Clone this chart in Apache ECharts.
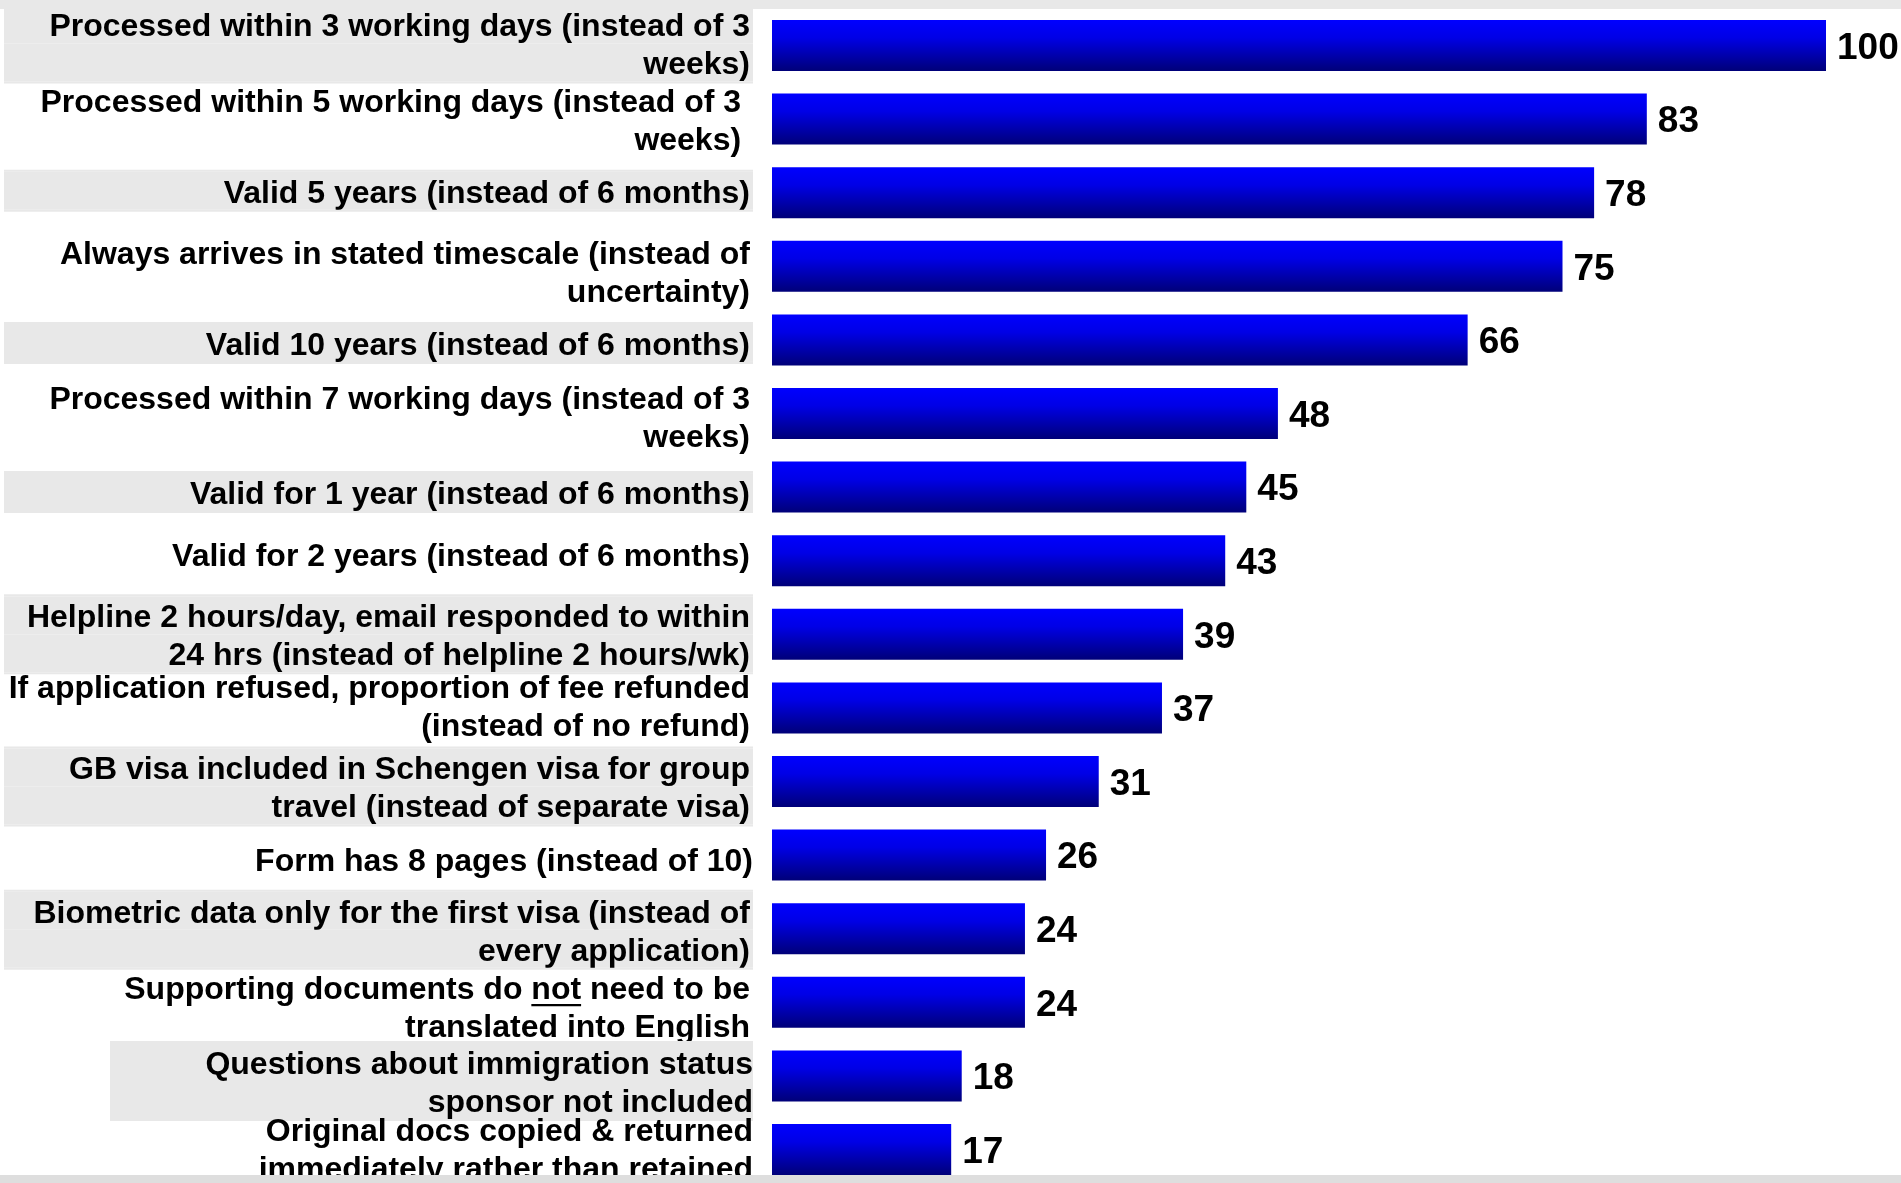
<!DOCTYPE html>
<html>
<head>
<meta charset="utf-8">
<script src="https://cdn.jsdelivr.net/npm/echarts@6/dist/echarts.min.js"></script>
<style>
html,body{margin:0;padding:0;background:#fff;}
#chart{width:1901px;height:1183px;}
</style>
</head>
<body>
<div id="chart"></div>
<script>
// ---- data ----
var categories = [
  "Processed within 3 working days (instead of 3\nweeks)",
  "Processed within 5 working days (instead of 3 \nweeks) ",
  "Valid 5 years (instead of 6 months)",
  "Always arrives in stated timescale (instead of\nuncertainty)",
  "Valid 10 years (instead of 6 months)",
  "Processed within 7 working days (instead of 3\nweeks)",
  "Valid for 1 year (instead of 6 months)",
  "Valid for 2 years (instead of 6 months)",
  "Helpline 2 hours/day, email responded to within\n24 hrs (instead of helpline 2 hours/wk)",
  "If application refused, proportion of fee refunded\n(instead of no refund)",
  "GB visa included in Schengen visa for group\ntravel (instead of separate visa)",
  "Form has 8 pages (instead of 10)",
  "Biometric data only for the first visa (instead of\nevery application)",
  "Supporting documents do {u|not} need to be\ntranslated into English",
  "Questions about immigration status\nsponsor not included",
  "Original docs copied & returned\nimmediately rather than retained"
];
var values = [100, 83, 78, 75, 66, 48, 45, 43, 39, 37, 31, 26, 24, 24, 18, 17];

// ---- label styling (not data) ----
var shadedRows = [0, 2, 4, 6, 8, 10, 12, 14];   // grey band behind label
var flushRows = [11, 14, 15];                    // text flush to the band edge
var narrowBandRow = 14;                          // shorter grey band
var labelShift = [-2, 0, -2, 5, 3, 3, 5, -7, 0, -3, 5, 4, 1, 4, 5, -1];

var FONT = "'Liberation Sans', Arial, sans-serif";
var GREY = '#e8e8e8';

function txt(extra) {
  var o = { fontFamily: FONT, fontSize: 32, fontWeight: 'bold', color: '#000',
            height: 32, lineHeight: 38, padding: [6, 0, 0, 0] };
  for (var k in extra) o[k] = extra[k];
  return o;
}
var rich = {
  g:  txt({ backgroundColor: GREY, width: 746 }),
  q:  txt({ backgroundColor: GREY, width: 643 }),
  w:  txt({}),
  u:  txt({ backgroundColor: {
        type: 'linear', x: 0, y: 0, x2: 0, y2: 1,
        colorStops: [
          { offset: 0, color: 'rgba(0,0,0,0)' },
          { offset: 0.935, color: 'rgba(0,0,0,0)' },
          { offset: 0.935, color: '#000' },
          { offset: 1, color: '#000' }
        ] } }),
  gr: { backgroundColor: GREY, width: 3, height: 38, lineHeight: 38 },
  wr: { width: 3, height: 38, lineHeight: 38 },
  gp: { backgroundColor: GREY, width: 749, height: 2, lineHeight: 2 },
  qp: { backgroundColor: GREY, width: 643, height: 2, lineHeight: 2 },
  wp: { width: 1, height: 2, lineHeight: 2 }
};
labelShift.forEach(function (d) {
  var h = Math.abs(d) * 2;
  if (h) rich['s' + h] = { width: 1, height: h, lineHeight: h };
});

function buildLabel(value, idx) {
  var lines = String(value).split('\n');
  var shaded = shadedRows.indexOf(idx) >= 0;
  var narrow = idx === narrowBandRow;
  var gap = flushRows.indexOf(idx) < 0;
  var base = shaded ? (narrow ? 'q' : 'g') : 'w';
  var padTok = shaded ? (narrow ? '{qp|}' : '{gp|}') : '{wp|}';
  var out = [padTok];
  lines.forEach(function (line) {
    var s = '';
    line.split(/(\{u\|[^}]*\})/).forEach(function (p) {
      if (!p) return;
      if (/^\{u\|/.test(p)) s += p; else s += '{' + base + '|' + p + '}';
    });
    if (gap) s += shaded ? '{gr|}' : '{wr|}';
    out.push(s);
  });
  out.push(padTok);
  var d = labelShift[idx] || 0;
  if (d > 0) out.unshift('{s' + (2 * d) + '|}');
  if (d < 0) out.push('{s' + (-2 * d) + '|}');
  return out.join('\n');
}

var chart = echarts.init(document.getElementById('chart'), null, {renderer: 'canvas'});
chart.setOption({
  animation: false,
  backgroundColor: '#ffffff',
  grid: { left: 772, right: 75, top: 8.7, height: 1177.6, containLabel: false, outerBoundsMode: 'none' },
  xAxis: {
    type: 'value', min: 0, max: 100, show: false,
    splitLine: { show: false }
  },
  yAxis: {
    type: 'category', inverse: true, data: categories,
    axisLine: { show: false }, axisTick: { show: false }, splitLine: { show: false },
    axisLabel: {
      margin: 19, interval: 0,
      fontFamily: FONT, fontSize: 32, fontWeight: 'bold', color: '#000',
      lineHeight: 38, align: 'right', verticalAlign: 'middle',
      width: 749, overflow: 'none',
      formatter: buildLabel,
      rich: rich
    }
  },
  series: [{
    type: 'bar',
    data: values,
    barWidth: 51,
    itemStyle: {
      color: {
        type: 'linear', x: 0, y: 0, x2: 0, y2: 1,
        colorStops: [
          { offset: 0, color: '#0000ff' },
          { offset: 0.35, color: '#0000e6' },
          { offset: 1, color: '#000078' }
        ]
      }
    },
    label: {
      show: true, position: 'right', distance: 11, offset: [0, 3],
      fontFamily: FONT, fontSize: 37, fontWeight: 'bold', color: '#000',
      formatter: '{c}'
    }
  }],
  graphic: [
    { type: 'rect', left: 0, top: 0, z: 100, shape: { width: 1901, height: 9 }, style: { fill: GREY } },
    { type: 'rect', left: 0, top: 1175, z: 100, shape: { width: 1901, height: 8 }, style: { fill: '#dedede' } }
  ]
});
</script>
</body>
</html>
